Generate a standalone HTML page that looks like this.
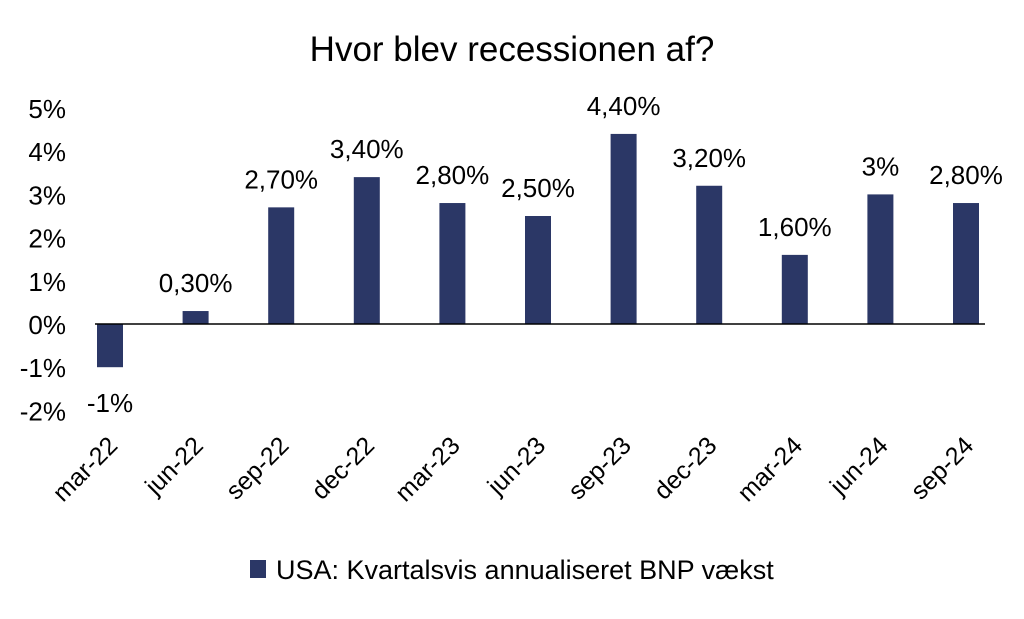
<!DOCTYPE html>
<html><head><meta charset="utf-8"><style>
body{margin:0;background:#fff;width:1024px;height:614px;overflow:hidden}
svg text{font-family:"Liberation Sans",sans-serif;fill:#000}
</style></head><body>
<svg id="c" width="1024" height="614">
<text x="512" y="61" text-anchor="middle" font-size="35">Hvor blev recessionen af?</text>
<g id="yaxis"></g>
<g id="bars"></g>
<g id="xaxis"></g>
<line x1="95" y1="324" x2="985" y2="324" stroke="#000" stroke-width="1.5"/>
<rect x="250" y="560" width="16" height="18" fill="#2b3766"/>
<text x="276" y="579" font-size="27">USA: Kvartalsvis annualiseret BNP vækst</text>
</svg>
<script>
const categories=["mar-22","jun-22","sep-22","dec-22","mar-23","jun-23","sep-23","dec-23","mar-24","jun-24","sep-24"];
const values=[-1,0.3,2.7,3.4,2.8,2.5,4.4,3.2,1.6,3,2.8];
const valueLabels=["-1%","0,30%","2,70%","3,40%","2,80%","2,50%","4,40%","3,20%","1,60%","3%","2,80%"];
const yTicks=[5,4,3,2,1,0,-1,-2];
const NS="http://www.w3.org/2000/svg";
const y=v=>324-v*43.2;
const x=i=>110+i*85.6;
function mk(t,a,p){const e=document.createElementNS(NS,t);for(const k in a)e.setAttribute(k,a[k]);p.appendChild(e);return e;}
const ya=document.getElementById('yaxis'),bg=document.getElementById('bars'),xa=document.getElementById('xaxis');
yTicks.forEach(v=>{const t=mk('text',{x:66,y:y(v)+10,'text-anchor':'end','font-size':26},ya);t.textContent=v+'%';

});
values.forEach((v,i)=>{
const r=mk('rect',{x:x(i)-13,y:Math.min(y(v),y(0)),width:26,height:Math.abs(y(v)-y(0)),fill:'#2b3766'},bg);


const ly=v>=0?y(v)-19:y(v)+45;
const l=mk('text',{x:x(i),y:ly,'text-anchor':'middle','font-size':26},bg);l.textContent=valueLabels[i];


const xl=mk('text',{x:0,y:0,'text-anchor':'end','font-size':25,transform:`translate(${x(i)+9},${447}) rotate(-45)`},xa);xl.textContent=categories[i];


});
</script>
</body></html>
